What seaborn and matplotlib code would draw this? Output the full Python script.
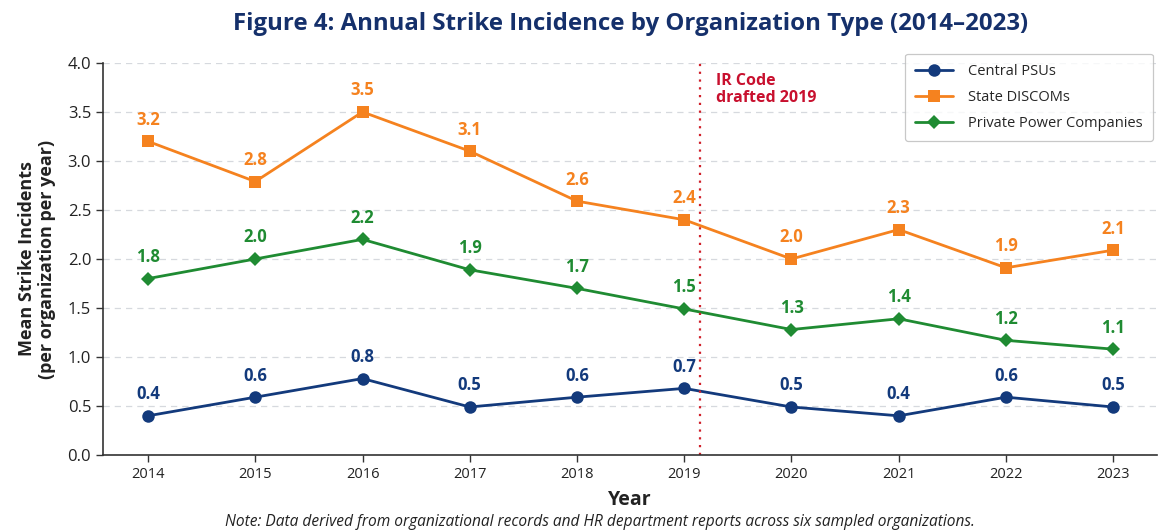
import matplotlib
matplotlib.use("Agg")
import matplotlib.pyplot as plt
import seaborn as sns
import pandas as pd

years = [2014, 2015, 2016, 2017, 2018, 2019, 2020, 2021, 2022, 2023]
central_psus = [0.40, 0.59, 0.78, 0.49, 0.59, 0.68, 0.49, 0.40, 0.59, 0.49]
state_discoms = [3.20, 2.79, 3.50, 3.10, 2.59, 2.40, 2.00, 2.30, 1.91, 2.09]
private_cos = [1.80, 2.00, 2.20, 1.89, 1.70, 1.49, 1.28, 1.39, 1.17, 1.08]
series_names = ["Central PSUs", "State DISCOMs", "Private Power Companies"]
y_ticks = [0.0, 0.5, 1.0, 1.5, 2.0, 2.5, 3.0, 3.5, 4.0]

colors = {"Central PSUs": "#133a7c", "State DISCOMs": "#f5821f", "Private Power Companies": "#1f8b32"}
markers = {"Central PSUs": "o", "State DISCOMs": "s", "Private Power Companies": "D"}
msizes = {"Central PSUs": 9, "State DISCOMs": 8.5, "Private Power Companies": 7.5}

rows = []
for name, vals in zip(series_names, [central_psus, state_discoms, private_cos]):
    for y, v in zip(years, vals):
        rows.append({"Year": y, "Value": v, "Series": name})
df = pd.DataFrame(rows)

sns.set_theme(style="white")
plt.rcParams["font.family"] = ["Open Sans", "DejaVu Sans"]

fig = plt.figure(figsize=(11.61, 5.32), dpi=100)
ax = fig.add_axes([0.0887, 0.1447, 0.908, 0.737])

for name in series_names:
    sub = df[df["Series"] == name]
    sns.lineplot(data=sub, x="Year", y="Value", ax=ax, color=colors[name],
                 marker=markers[name], markersize=msizes[name], markeredgewidth=0,
                 linewidth=2, label=name)
    for x, v in zip(sub["Year"], sub["Value"]):
        ax.annotate(f"{v:.1f}", (x, v), xytext=(0, 9), textcoords="offset points",
                    ha="center", va="bottom", fontsize=12, fontweight="bold",
                    color=colors[name])

ax.set_xlim(2013.58, 2023.41)
ax.set_ylim(0, 4.0)
ax.set_xticks(years)
ax.set_xticklabels([str(y) for y in years], fontsize=10.5)
ax.set_yticks(y_ticks)
ax.set_yticklabels([f"{t:.1f}" for t in y_ticks], fontsize=12)
ax.yaxis.grid(True, linestyle=(0, (5, 4)), color="#d6d9de", linewidth=0.9)
ax.xaxis.grid(False)
for s in ["top", "right"]:
    ax.spines[s].set_visible(False)
for s in ["left", "bottom"]:
    ax.spines[s].set_color("#333333")
    ax.spines[s].set_linewidth(1.2)
ax.tick_params(axis="both", which="both", length=5, width=1, color="#333333",
               bottom=True, left=True, labelcolor="#222222")

ax.set_xlabel("Year", fontsize=14, fontweight="bold", color="#222222", labelpad=6)
ax.set_ylabel("Mean Strike Incidents\n(per organization per year)", fontsize=13,
              fontweight="bold", color="#222222", labelpad=8)

ax.axvline(2019.15, color="#d0202a", linestyle=(0, (1, 2.5)), linewidth=1.6)
ax.text(2019.3, 3.9, "IR Code\ndrafted 2019", color="#c8102e", fontsize=11.5,
        fontweight="bold", va="top", ha="left", linespacing=1.1)

leg = ax.legend(loc="upper right", bbox_to_anchor=(0.999, 0.913), bbox_transform=fig.transFigure,
                fontsize=10.5, frameon=True, fancybox=True, borderpad=0.7,
                labelspacing=0.75, handlelength=2.6, handletextpad=1.0)
leg.get_frame().set_edgecolor("#bbbbbb")
leg.get_frame().set_linewidth(0.9)

fig.text(0.543, 0.955, "Figure 4: Annual Strike Incidence by Organization Type (2014\u20132023)",
         ha="center", va="center", fontsize=17.3, fontweight="bold", color="#15306b")
fig.text(0.517, 0.003, "Note: Data derived from organizational records and HR department reports across six sampled organizations.",
         ha="center", va="bottom", fontsize=11.2, style="italic", color="#222222")

fig.savefig("out.png", dpi=100)
